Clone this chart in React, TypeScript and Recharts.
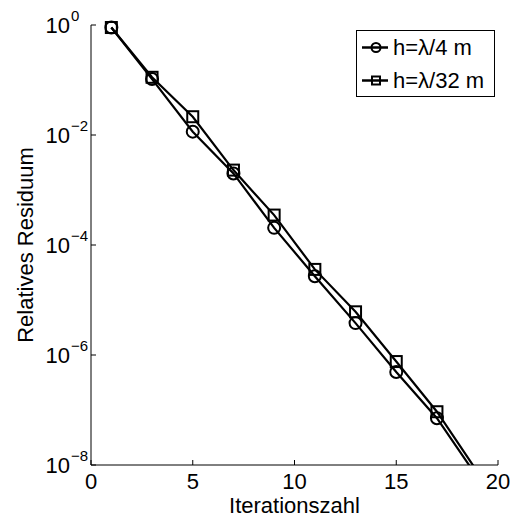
import { LineChart, Line, XAxis, YAxis, Legend } from 'recharts';

const iterations = [1, 3, 5, 7, 9, 11, 13, 15, 17, 19];
const residualCoarse = [0.9, 0.104, 0.0115, 0.002, 2.05e-4, 2.7e-5, 3.8e-6, 4.9e-7, 7.1e-8, 5.9e-9];
const residualFine = [0.9, 0.112, 0.0215, 0.0023, 3.5e-4, 3.6e-5, 6.1e-6, 7.6e-7, 9.3e-8, 7.4e-9];
const xTicks = [0, 5, 10, 15, 20];
const yTicks = [1, 1e-2, 1e-4, 1e-6, 1e-8];
const seriesNames = ['h=λ/4 m', 'h=λ/32 m'];

const Y_MIN = 1e-8;
// markers whose centre lies below the axes are not drawn (MATLAB behaviour)
const inRange = (v: number) => (v >= Y_MIN ? v : null);

const data = iterations.map((x, i) => ({
  x,
  coarse: residualCoarse[i],
  fine: residualFine[i],
  coarseMark: inRange(residualCoarse[i]),
  fineMark: inRange(residualFine[i]),
}));

const FONT = '"Liberation Sans", Arial, Helvetica, sans-serif';

function YTick(props: any) {
  const { x, y, payload } = props;
  const exp = Math.round(Math.log10(payload.value));
  const expText = exp < 0 ? '\u2212' + Math.abs(exp) : String(exp);
  return (
    <g fontFamily={FONT} fill="#000">
      <text x={x} y={y + 8} textAnchor="end" fontSize={22}>10</text>
      <text x={x + 1} y={y - 4} textAnchor="start" fontSize={15}>{expText}</text>
    </g>
  );
}

function YLabel(props: any) {
  const vb = props.viewBox || { x: 0, y: 25, width: 91, height: 440 };
  const cx = 25;
  const cy = vb.y + vb.height / 2;
  return (
    <text x={cx} y={cy} transform={`rotate(-90 ${cx} ${cy})`} textAnchor="middle"
      dominantBaseline="central" fontSize={22} fontFamily={FONT} fill="#000">
      Relatives Residuum
    </text>
  );
}

function XLabel(props: any) {
  const vb = props.viewBox || { x: 91, y: 465, width: 408, height: 52 };
  return (
    <text x={vb.x + vb.width / 2} y={vb.y + 48} textAnchor="middle" fontSize={22}
      fontFamily={FONT} fill="#000">
      Iterationszahl
    </text>
  );
}

function CircleDot(props: any) {
  const { cx, cy, value } = props;
  if (cx == null || cy == null || value == null) return null;
  return <circle cx={cx} cy={cy} r={6} fill="none" stroke="#000" strokeWidth={2} />;
}

function SquareDot(props: any) {
  const { cx, cy, value } = props;
  if (cx == null || cy == null || value == null) return null;
  return <rect x={cx - 5.5} y={cy - 5.5} width={11} height={11} fill="none" stroke="#000" strokeWidth={2} />;
}

function LegendBox() {
  return (
    <div style={{ border: '1px solid #000', background: '#fff', width: 137, height: 65, boxSizing: 'content-box', fontFamily: FONT, fontSize: 22, color: '#000' }}>
      {seriesNames.map((name, i) => (
        <div key={name} style={{ display: 'flex', alignItems: 'center', height: 33 }}>
          <svg width={36} height={33} style={{ flex: 'none' }}>
            <line x1={5} x2={31} y1={16.5} y2={16.5} stroke="#000" strokeWidth={2.5} />
            {i === 0 ? (
              <circle cx={19} cy={16.5} r={4.5} fill="none" stroke="#000" strokeWidth={2} />
            ) : (
              <rect x={15} y={12.5} width={8} height={8} fill="none" stroke="#000" strokeWidth={2} />
            )}
          </svg>
          <span style={{ whiteSpace: 'nowrap', lineHeight: '33px' }}>{name}</span>
        </div>
      ))}
    </div>
  );
}

export default function App() {
  return (
    <div style={{ position: 'absolute', left: 0, top: 0, width: 518, height: 517, background: '#fff' }}>
      <LineChart width={518} height={517} data={data} margin={{ top: 25, right: 20, bottom: 0, left: 0 }}>
        <XAxis
          dataKey="x"
          type="number"
          domain={[0, 20]}
          ticks={xTicks}
          allowDataOverflow
          height={52}
          tickSize={-5}
          tickMargin={13.5}
          axisLine={{ stroke: '#000', strokeWidth: 1 }}
          tickLine={{ stroke: '#000', strokeWidth: 1 }}
          tick={{ fill: '#000', fontSize: 22, fontFamily: FONT }}
          label={<XLabel />}
        />
        <XAxis
          xAxisId="top"
          orientation="top"
          dataKey="x"
          type="number"
          domain={[0, 20]}
          ticks={xTicks}
          height={0}
          tickSize={-5}
          tick={false}
          axisLine={{ stroke: '#000', strokeWidth: 1 }}
          tickLine={{ stroke: '#000', strokeWidth: 1 }}
        />
        <YAxis
          type="number"
          scale="log"
          domain={[Y_MIN, 1]}
          ticks={yTicks}
          allowDataOverflow
          width={91}
          tickSize={-5}
          tickMargin={26}
          axisLine={{ stroke: '#000', strokeWidth: 1 }}
          tickLine={{ stroke: '#000', strokeWidth: 1 }}
          tick={<YTick />}
          label={<YLabel />}
        />
        <YAxis
          yAxisId="right"
          orientation="right"
          type="number"
          scale="log"
          domain={[Y_MIN, 1]}
          ticks={yTicks}
          width={0}
          tickSize={-5}
          tick={false}
          axisLine={{ stroke: '#000', strokeWidth: 1 }}
          tickLine={{ stroke: '#000', strokeWidth: 1 }}
        />
        {/* lines, clipped to the axes */}
        <Line dataKey="coarse" name={seriesNames[0]} type="linear" stroke="#000" strokeWidth={2.2}
          dot={false} activeDot={false} isAnimationActive={false} />
        <Line dataKey="fine" name={seriesNames[1]} type="linear" stroke="#000" strokeWidth={2.2}
          dot={false} activeDot={false} isAnimationActive={false} />
        {/* markers, not clipped */}
        <Line dataKey="coarseMark" xAxisId="top" yAxisId="right" type="linear" stroke="none"
          dot={<CircleDot />} activeDot={false} legendType="none" isAnimationActive={false} />
        <Line dataKey="fineMark" xAxisId="top" yAxisId="right" type="linear" stroke="none"
          dot={<SquareDot />} activeDot={false} legendType="none" isAnimationActive={false} />
        <Legend
          layout="vertical"
          align="center"
          verticalAlign="middle"
          content={<LegendBox />}
          wrapperStyle={{ position: 'absolute', left: 356, top: 30, width: 139, height: 67 }}
        />
      </LineChart>
    </div>
  );
}
